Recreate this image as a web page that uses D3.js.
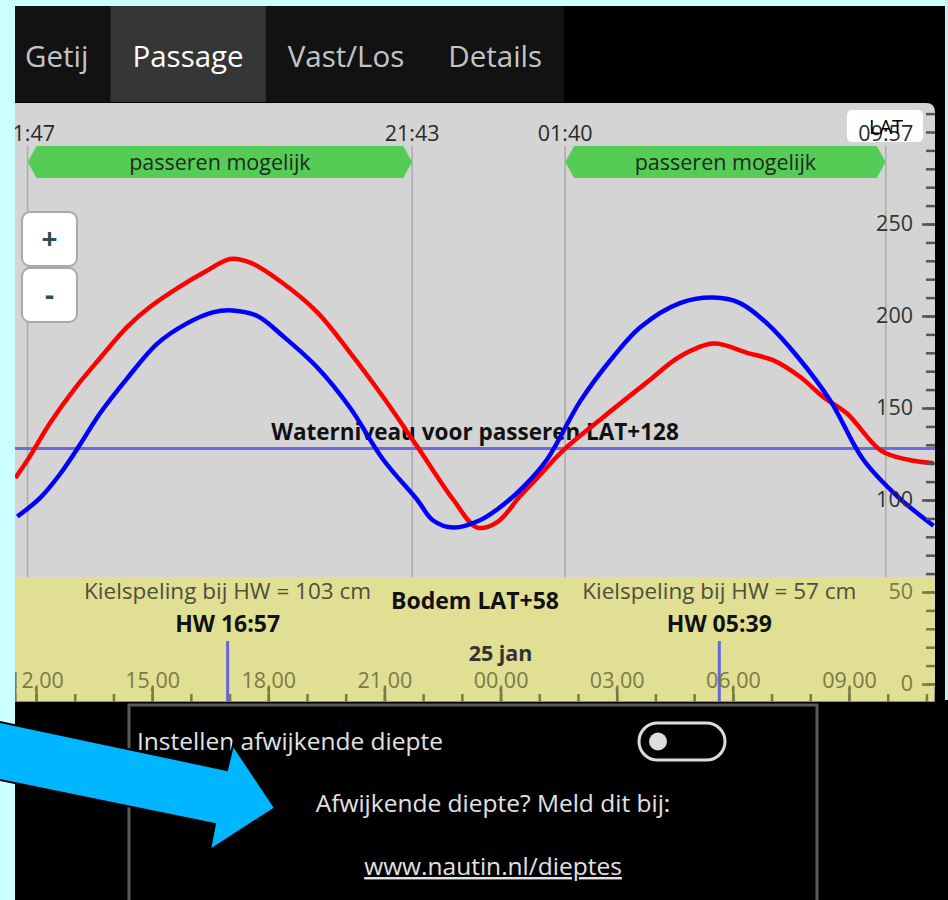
<!DOCTYPE html>
<html>
<head>
<meta charset="utf-8">
<script src="https://cdn.jsdelivr.net/npm/d3@7"></script>
<style>
  body { margin: 0; background: #ccffff; }
  svg { display: block; font-family: "Open Sans", sans-serif; }
</style>
</head>
<body>
<div id="main"></div>
<script>
// ---- data ----
const tabNames = ["Getij", "Passage", "Vast/Los", "Details"];
const activeTab = "Passage";

const redTimes = ["24 11:28", "24 11:51", "24 12:22", "24 13:01", "24 13:39", "24 14:21", "24 14:57", "24 15:43",
  "24 16:22", "24 17:01", "24 17:32", "24 18:18", "24 19:16", "24 20:07", "24 20:58", "24 21:51", "24 22:47",
  "24 23:24", "24 23:55", "25 00:30", "25 00:57", "25 01:37", "25 02:39", "25 03:47", "25 04:38", "25 05:30",
  "25 06:22", "25 07:02", "25 07:44", "25 08:20", "25 08:57", "25 09:49", "25 10:30", "25 11:11"];
const redLevels = [112, 124, 142, 161, 177, 194, 205, 216, 224, 231, 229, 219, 202, 180, 156, 129, 100,
  85, 88, 102, 112, 127, 145, 164, 178, 185, 180, 176, 167, 156, 147, 127, 122, 120];

const blueTimes = ["24 11:31", "24 12:06", "24 12:37", "24 13:08", "24 13:39", "24 14:21", "24 15:08", "24 15:54",
  "24 16:34", "24 17:05", "24 17:43", "24 18:23", "24 19:16", "24 20:07", "24 20:58", "24 21:51", "24 22:15",
  "24 22:47", "24 23:28", "24 23:59", "25 00:35", "25 01:12", "25 02:04", "25 02:55", "25 03:37", "25 04:38",
  "25 05:30", "25 06:11", "25 06:53", "25 07:40", "25 08:31", "25 09:22", "25 10:15", "25 11:11"];
const blueLevels = [91, 101, 114, 130, 147, 166, 185, 196, 202, 203, 200, 189, 172, 150, 122, 100, 89,
  85, 89, 96, 107, 122, 154, 178, 194, 207, 210, 207, 196, 178, 154, 122, 102, 86];

const windowStarts = ["24 11:47", "25 01:40"];
const windowEnds = ["24 21:43", "25 09:57"];
const windowText = "passeren mogelijk";

const highWaters = ["24 16:57", "25 05:39"];
const clearances = [103, 57];

const passLevel = 128;
const bottomLevel = 58;
const yLabelTicks = [0, 50, 100, 150, 200, 250];
const dayLabel = "25 jan";

const parseTime = d3.timeParse("%d %H:%M");
const fmtClock = d3.timeFormat("%H:%M");

// ---- layout ----
const chart = {left: 15, right: 935, top: 103, bottom: 702};

const svg = d3.select("#main").append("svg")
  .attr("width", 948)
  .attr("height", 900);

svg.append("rect").attr("x", 15).attr("y", 6).attr("width", 933).attr("height", 894).attr("fill", "#000");
svg.append("rect").attr("x", 945).attr("y", 0).attr("width", 3).attr("height", 700).attr("fill", "#cfeeee");

// tabs
const tabBar = svg.append("g");
const tabBg = tabBar.append("g");
let tx = 3;
tabNames.forEach(name => {
  const t = tabBar.append("text")
    .attr("y", 67)
    .attr("font-size", 29.5)
    .attr("fill", name === activeTab ? "#fff" : "#c4c4c4")
    .text(name);
  const w = t.node().getComputedTextLength();
  t.attr("x", tx + 22);
  if (name === activeTab) {
    tabBg.append("rect").attr("x", tx).attr("y", 6).attr("width", w + 44).attr("height", 96).attr("fill", "#363636");
  }
  tx += w + 44;
});
tabBg.insert("rect", ":first-child").attr("x", 15).attr("y", 6).attr("width", tx - 15).attr("height", 96).attr("fill", "#121212");

// scales
const x = d3.scaleTime()
  .domain([parseTime("24 12:00"), parseTime("25 09:00")])
  .range([36, 849]);
const xAxisScale = x.copy().domain([x.invert(chart.left), x.invert(chart.right)]).range([chart.left, chart.right]);
const y = d3.scaleLinear().domain([0, 250]).range([684, 224]);

svg.append("clipPath").attr("id", "chartClip")
  .append("rect").attr("x", chart.left).attr("y", chart.top)
  .attr("width", chart.right - chart.left).attr("height", chart.bottom - chart.top);

const g = svg.append("g").attr("clip-path", "url(#chartClip)");

// background: water column + bottom
g.append("path")
  .attr("d", `M${chart.left},${chart.top}H${chart.right - 9}Q${chart.right},${chart.top} ${chart.right},${chart.top + 9}V${chart.bottom}H${chart.left}Z`)
  .attr("fill", "#d4d4d4");
g.append("rect")
  .attr("x", chart.left).attr("y", y(bottomLevel))
  .attr("width", chart.right - chart.left).attr("height", chart.bottom - y(bottomLevel))
  .attr("fill", "#e0df94");

// passage windows
const windows = windowStarts.map((s, i) => ({start: parseTime(s), end: parseTime(windowEnds[i])}));
const bandTop = 146, bandBot = 178, bandMid = (bandTop + bandBot) / 2;

// LAT box behind the last window label
g.append("rect").attr("x", 847).attr("y", 110).attr("width", 76).attr("height", 32).attr("rx", 5).attr("fill", "#fff");

windows.forEach(w => {
  [w.start, w.end].forEach(t => {
    g.append("line")
      .attr("x1", x(t)).attr("x2", x(t))
      .attr("y1", bandTop).attr("y2", y(bottomLevel))
      .attr("stroke", "#ababab").attr("stroke-width", 1.5);
    g.append("text")
      .attr("x", x(t)).attr("y", 141)
      .attr("text-anchor", "middle")
      .attr("font-size", 21.5)
      .attr("fill", "#2a2a2a")
      .text(fmtClock(t));
  });
  const x0 = x(w.start), x1 = x(w.end);
  g.append("path")
    .attr("d", `M${x0},${bandMid}L${x0 + 9},${bandTop}H${x1 - 9}L${x1},${bandMid}L${x1 - 9},${bandBot}H${x0 + 9}Z`)
    .attr("fill", "#55cc55");
  g.append("text")
    .attr("x", (x0 + x1) / 2).attr("y", 170)
    .attr("text-anchor", "middle")
    .attr("font-size", 21.5)
    .attr("fill", "#1e2a1e")
    .text(windowText);
});

g.append("text").attr("x", 886).attr("y", 134).attr("text-anchor", "middle")
  .attr("font-size", 20).attr("fill", "#000").text("LAT");

// zoom buttons
["+", "-"].forEach((s, i) => {
  g.append("rect")
    .attr("x", 22).attr("y", 212 + i * 56).attr("width", 55).attr("height", 54).attr("rx", 8)
    .attr("fill", "#fff").attr("stroke", "#a9a9a9").attr("stroke-width", 2);
  g.append("text")
    .attr("x", 49.5).attr("y", 249 + i * 56)
    .attr("text-anchor", "middle")
    .attr("font-size", 28).attr("font-weight", "bold")
    .attr("fill", "#2f4f4f")
    .text(s);
});

// water level needed to pass
g.append("line")
  .attr("x1", chart.left).attr("x2", chart.right)
  .attr("y1", y(passLevel)).attr("y2", y(passLevel))
  .attr("stroke", "#6a6ae8").attr("stroke-width", 3);
g.append("text")
  .attr("x", (chart.left + chart.right) / 2).attr("y", 440)
  .attr("text-anchor", "middle")
  .attr("font-size", 22.5).attr("font-weight", "bold").attr("fill", "#111")
  .text(`Waterniveau voor passeren LAT+${passLevel}`);

// tide curves
const line = d3.line()
  .x(d => x(d.t))
  .y(d => y(d.v))
  .curve(d3.curveCatmullRom);

const redData = redTimes.map((t, i) => ({t: parseTime(t), v: redLevels[i]}));
const blueData = blueTimes.map((t, i) => ({t: parseTime(t), v: blueLevels[i]}));

g.append("path").datum(redData).attr("d", line)
  .attr("fill", "none").attr("stroke", "#ff0000").attr("stroke-width", 4.5).attr("stroke-linejoin", "round");
g.append("path").datum(blueData).attr("d", line)
  .attr("fill", "none").attr("stroke", "#0000ff").attr("stroke-width", 4.5).attr("stroke-linejoin", "round");

// bottom label
g.append("text")
  .attr("x", (chart.left + chart.right) / 2).attr("y", 609)
  .attr("text-anchor", "middle")
  .attr("font-size", 23).attr("font-weight", "bold").attr("fill", "#111")
  .text(`Bodem LAT+${bottomLevel}`);

// high water markers
highWaters.forEach((h, i) => {
  const hx = x(parseTime(h));
  g.append("text")
    .attr("x", hx).attr("y", 599)
    .attr("text-anchor", "middle")
    .attr("font-size", 22.5).attr("fill", "#4f4f3a")
    .text(`Kielspeling bij HW = ${clearances[i]} cm`);
  g.append("text")
    .attr("x", hx).attr("y", 632)
    .attr("text-anchor", "middle")
    .attr("font-size", 23).attr("font-weight", "bold").attr("fill", "#111")
    .text(`HW ${h.slice(3)}`);
  g.append("line")
    .attr("x1", hx).attr("x2", hx)
    .attr("y1", 641).attr("y2", chart.bottom)
    .attr("stroke", "#6464e0").attr("stroke-width", 3);
});

g.append("text")
  .attr("x", x(parseTime("25 00:00"))).attr("y", 661)
  .attr("text-anchor", "middle")
  .attr("font-size", 21.5).attr("font-weight", "bold").attr("fill", "#333")
  .text(dayLabel);

// x axis (along the bottom, ticks pointing up)
const olive = "#7a7a44";
const xMinor = g.append("g")
  .attr("transform", `translate(0,${chart.bottom})`)
  .call(d3.axisTop(xAxisScale).ticks(d3.timeHour.every(1)).tickSize(8).tickFormat(""));
const xMajor = g.append("g")
  .attr("transform", `translate(0,${chart.bottom})`)
  .call(d3.axisTop(xAxisScale).ticks(d3.timeHour.every(3)).tickSize(15).tickPadding(-1)
    .tickFormat(d3.timeFormat("%H,%M")));
[xMinor, xMajor].forEach(a => {
  a.selectAll("line").attr("stroke", olive).attr("stroke-width", 2.5);
  a.select(".domain").attr("stroke", olive).attr("stroke-width", 2);
  a.selectAll("text").attr("font-size", 21.5).attr("fill", olive).attr("font-family", "Open Sans, sans-serif");
});

// y axis on the right edge
const yMinor = g.append("g")
  .attr("transform", `translate(${chart.right},0)`)
  .call(d3.axisLeft(y).tickValues(d3.range(0, 320, 10)).tickSize(9).tickFormat(""));
const yMajor = g.append("g")
  .attr("transform", `translate(${chart.right},0)`)
  .call(d3.axisLeft(y).tickValues(yLabelTicks).tickSize(13).tickPadding(9));
[yMinor, yMajor].forEach(a => {
  a.select(".domain").remove();
  a.selectAll("line").attr("stroke", d => d < bottomLevel ? olive : "#555").attr("stroke-width", 2.5);
  a.selectAll("text").attr("font-size", 21.5).attr("fill", d => d < bottomLevel ? olive : "#333")
    .attr("font-family", "Open Sans, sans-serif");
});

// settings panel below the chart
const panel = svg.append("g");
panel.append("rect")
  .attr("x", 129).attr("y", 705).attr("width", 688).attr("height", 205)
  .attr("fill", "#000").attr("stroke", "#5a5a5a").attr("stroke-width", 3);
panel.append("text")
  .attr("x", 137).attr("y", 750)
  .attr("font-size", 24.5).attr("fill", "#e2e2e2")
  .text("Instellen afwijkende diepte");
panel.append("rect")
  .attr("x", 639).attr("y", 723).attr("width", 86).attr("height", 37).attr("rx", 18.5)
  .attr("fill", "none").attr("stroke", "#ddd").attr("stroke-width", 3);
panel.append("circle").attr("cx", 658).attr("cy", 741.5).attr("r", 9).attr("fill", "#ddd");
panel.append("text")
  .attr("x", 493).attr("y", 812)
  .attr("text-anchor", "middle")
  .attr("font-size", 24.5).attr("fill", "#e2e2e2")
  .text("Afwijkende diepte? Meld dit bij:");
panel.append("text")
  .attr("x", 493).attr("y", 875)
  .attr("text-anchor", "middle")
  .attr("font-size", 24.5).attr("fill", "#e2e2e2")
  .attr("text-decoration", "underline")
  .text("www.nautin.nl/dieptes");

// pointing arrow
svg.append("path")
  .attr("d", "M-5,721L227,770L233,745L275,808L210,850L215,824L-5,779Z")
  .attr("fill", "#00b6ff").attr("stroke", "#000").attr("stroke-width", 2).attr("stroke-linejoin", "miter");
</script>
</body>
</html>
